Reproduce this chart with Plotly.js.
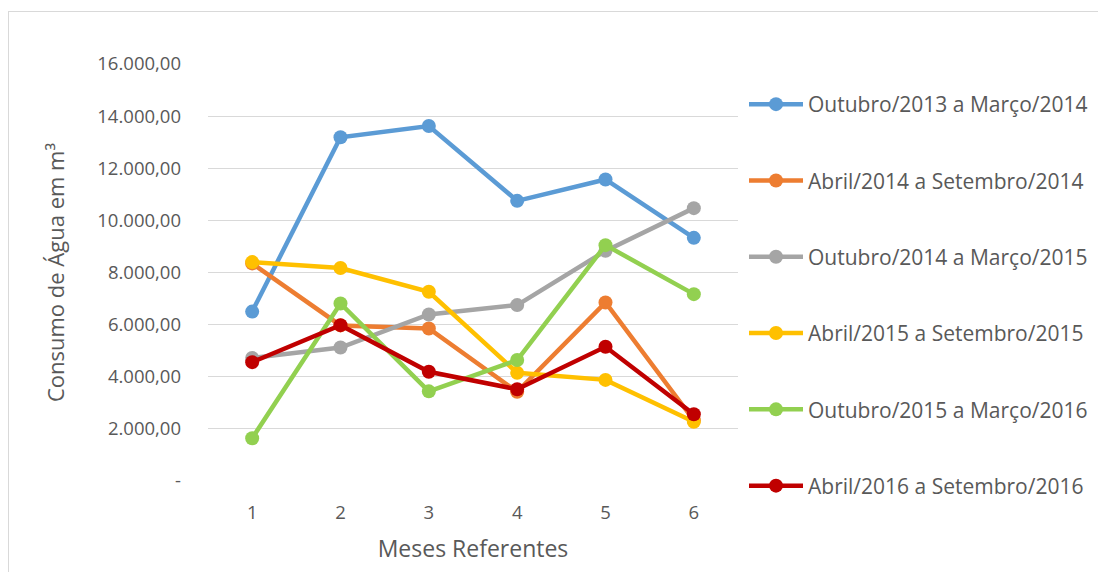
<!DOCTYPE html>
<html>
<head>
<meta charset="utf-8">
<script src="https://cdn.plot.ly/plotly-3.0.1.min.js"></script>
<style>
html,body{margin:0;padding:0;background:#fff;}
#chart{width:1098px;height:572px;}
#frame{position:absolute;left:8px;top:11px;width:1100px;height:570px;border:1px solid #d9d9d9;pointer-events:none;}
</style>
</head>
<body>
<div id="chart"></div>
<div id="frame"></div>
<script>
const months = [1, 2, 3, 4, 5, 6];
const seriesNames = [
  "Outubro/2013 a Março/2014",
  "Abril/2014 a Setembro/2014",
  "Outubro/2014 a Março/2015",
  "Abril/2015 a Setembro/2015",
  "Outubro/2015 a Março/2016",
  "Abril/2016 a Setembro/2016"
];
const out13mar14 = [6500, 13190, 13620, 10750, 11570, 9330];
const abr14set14 = [8350, 5970, 5850, 3420, 6850, 2330];
const out14mar15 = [4720, 5120, 6390, 6750, 8830, 10470];
const abr15set15 = [8400, 8170, 7260, 4150, 3880, 2270];
const out15mar16 = [1640, 6810, 3440, 4640, 9050, 7170];
const abr16set16 = [4560, 5980, 4190, 3520, 5150, 2560];
const seriesColors = ["#5B9BD5", "#ED7D31", "#A5A5A5", "#FFC000", "#92D050", "#C00000"];
const yTickVals = [0, 2000, 4000, 6000, 8000, 10000, 12000, 14000, 16000];
const yTickText = ["-", "2.000,00", "4.000,00", "6.000,00", "8.000,00", "10.000,00", "12.000,00", "14.000,00", "16.000,00"];

const allValues = [out13mar14, abr14set14, out14mar15, abr15set15, out15mar16, abr16set16];
const font = "Open Sans, DejaVu Sans, sans-serif";
const traces = allValues.map((vals, i) => ({
  x: months,
  y: vals,
  name: seriesNames[i],
  legendgroup: "g" + i,
  type: "scatter",
  mode: "lines+markers",
  line: {color: seriesColors[i], width: 4.5},
  marker: {color: seriesColors[i], size: 14}
}));

const layout = {
  width: 1098,
  height: 572,
  margin: {l: 208, r: 360, t: 64, b: 91},
  paper_bgcolor: "#fff",
  plot_bgcolor: "#fff",
  showlegend: true,
  legend: {
    xref: "container",
    x: 0.6776, xanchor: "left", y: 0.952, yanchor: "top",
    tracegroupgap: 46,
    font: {family: font, size: 21, color: "#595959"},
    itemwidth: 54
  },
  xaxis: {
    range: [0.5, 6.5],
    tickvals: months,
    ticktext: months.map(String),
    showgrid: false,
    zeroline: false,
    showline: false,
    ticks: "",
    ticklabelstandoff: 18,
    tickfont: {family: font, size: 18.5, color: "#595959"},
    title: {text: "Meses Referentes", font: {family: font, size: 23, color: "#595959"}, standoff: 18}
  },
  yaxis: {
    range: [0, 16000],
    tickvals: yTickVals,
    ticktext: yTickText,
    showgrid: true,
    gridcolor: "#d9d9d9",
    gridwidth: 1,
    zeroline: false,
    showline: false,
    ticks: "",
    ticklabelstandoff: 26,
    tickfont: {family: font, size: 18.5, color: "#595959"},
    title: {text: "Consumo de Água em m³", font: {family: font, size: 22, color: "#595959"}, standoff: 26}
  }
};

Plotly.newPlot("chart", traces, layout, {displayModeBar: false, staticPlot: true});
</script>
</body>
</html>
